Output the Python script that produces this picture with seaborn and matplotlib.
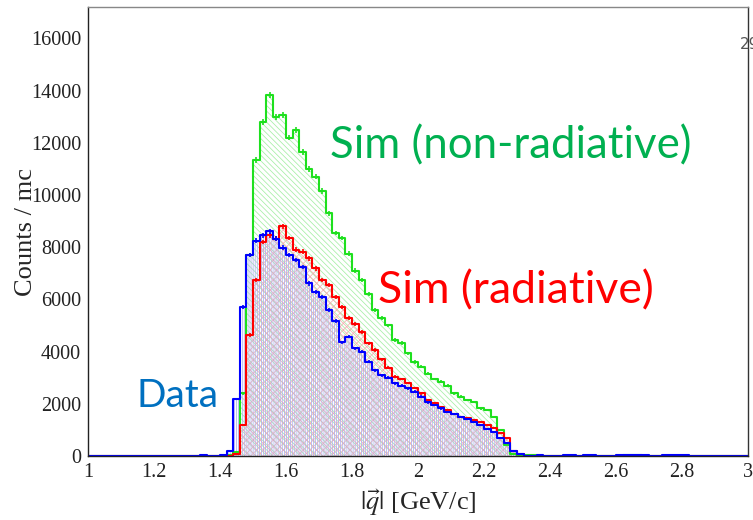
import numpy as np
import pandas as pd
import matplotlib
matplotlib.use('Agg')
import matplotlib.pyplot as plt
import seaborn as sns
from matplotlib.ticker import MultipleLocator, FormatStrFormatter

sns.set_style('white')
plt.rcParams['font.family'] = ['Liberation Serif', 'DejaVu Serif']
plt.rcParams['mathtext.fontset'] = 'stix'
plt.rcParams['hatch.linewidth'] = 0.55

# |q| histogram, 0.02 GeV/c bins from 1 to 3 (one row = 10 bins = 0.2 GeV/c)
q_min, q_max, n_bins = 1.0, 3.0, 100

data_counts = [
    0, 0, 0, 0, 0, 0, 0, 0, 0, 0,
    0, 0, 0, 0, 0, 0, 0, 50, 0, 0,
    40, 180, 2180, 5700, 7700, 8250, 8450, 8600, 8330, 7980,
    7700, 7500, 7250, 6610, 6290, 6100, 5590, 5180, 4350, 4570,
    4120, 3990, 3620, 3290, 3100, 3000, 2780, 2700, 2590, 2460,
    2270, 2050, 1950, 1820, 1700, 1600, 1480, 1400, 1300, 1180,
    1050, 920, 700, 480, 200, 80, 0, 0, 40, 0,
    0, 0, 40, 40, 0, 40, 40, 0, 0, 0,
    40, 40, 40, 40, 40, 0, 0, 40, 40, 40,
    40, 0, 0, 0, 0, 0, 0, 0, 0, 0,
]

sim_radiative = [
    0, 0, 0, 0, 0, 0, 0, 0, 0, 0,
    0, 0, 0, 0, 0, 0, 0, 0, 0, 0,
    0, 0, 80, 1200, 4630, 6740, 8200, 8450, 8330, 8800,
    8350, 7900, 7830, 7570, 7190, 6740, 6550, 6100, 5700, 5300,
    5050, 4760, 4320, 4060, 3700, 3380, 3040, 2950, 2800, 2600,
    2400, 2150, 2020, 1890, 1760, 1600, 1500, 1440, 1380, 1310,
    1190, 1060, 900, 700, 200, 60, 0, 0, 0, 0,
    0, 0, 0, 0, 0, 0, 0, 0, 0, 0,
    0, 0, 0, 0, 0, 0, 0, 0, 0, 0,
    0, 0, 0, 0, 0, 0, 0, 0, 0, 0,
]

sim_nonradiative = [
    0, 0, 0, 0, 0, 0, 0, 0, 0, 0,
    0, 0, 0, 0, 0, 0, 0, 0, 0, 0,
    0, 50, 150, 2400, 7700, 11340, 12800, 13830, 13000, 13060,
    12200, 12490, 11650, 11000, 10700, 10150, 9300, 8540, 8350, 7750,
    7100, 6750, 6200, 5600, 5300, 5000, 4450, 4330, 3930, 3600,
    3420, 3150, 2950, 2850, 2700, 2400, 2270, 2140, 2080, 1820,
    1750, 1500, 1000, 420, 80, 0, 40, 40, 0, 0,
    0, 0, 0, 0, 0, 0, 0, 0, 0, 0,
    0, 40, 40, 40, 0, 0, 0, 0, 0, 0,
    0, 0, 0, 0, 0, 0, 0, 0, 0, 0,
]

edges = np.linspace(q_min, q_max, n_bins + 1)
centers = 0.5 * (edges[:-1] + edges[1:])
bin_list = list(edges)

df = pd.concat([
    pd.DataFrame({'q': centers, 'counts': sim_nonradiative, 'sample': 'nonrad'}),
    pd.DataFrame({'q': centers, 'counts': sim_radiative, 'sample': 'rad'}),
    pd.DataFrame({'q': centers, 'counts': data_counts, 'sample': 'data'}),
], ignore_index=True)

# line colour, hatch colour, hatch pattern
styles = {
    'nonrad': ('#1ee01e', '#a6eea6', '\\' * 6),
    'rad':    ('#ff0000', '#f4b0b0', 'x' * 5),
    'data':   ('#0000ff', '#aeaeee', '|' * 8),
}

fig, ax = plt.subplots(figsize=(7.53, 5.20), dpi=100)
fig.subplots_adjust(left=88/753, right=748/753, bottom=64/520, top=513/520)

for name in ['nonrad', 'rad', 'data']:
    sub = df[df['sample'] == name]
    lc, hc, hatch = styles[name]
    sns.histplot(sub, x='q', weights='counts', bins=bin_list, element='step', fill=True,
                 color=hc, facecolor='none', edgecolor=hc, hatch=hatch, linewidth=0, ax=ax)

for name in ['nonrad', 'rad', 'data']:
    sub = df[df['sample'] == name]
    lc, hc, hatch = styles[name]
    sns.histplot(sub, x='q', weights='counts', bins=bin_list, element='step', fill=False,
                 color=lc, linewidth=1.5, ax=ax)
    nz = sub[sub['counts'] > 0]
    ax.errorbar(nz['q'], nz['counts'], yerr=np.sqrt(nz['counts']), fmt='none',
                ecolor=lc, elinewidth=1.2)

ax.set_xlim(1, 3)
ax.set_ylim(0, 17200)
ax.xaxis.set_major_locator(MultipleLocator(0.2))
ax.xaxis.set_minor_locator(MultipleLocator(0.05))
ax.xaxis.set_major_formatter(FormatStrFormatter('%g'))
ax.yaxis.set_major_locator(MultipleLocator(2000))
ax.yaxis.set_minor_locator(MultipleLocator(500))
ax.tick_params(axis='both', which='both', direction='in', labelsize=14.5, colors='#222222')
ax.tick_params(axis='x', which='major', length=11.5, width=0.8, pad=5)
ax.tick_params(axis='x', which='minor', length=5.5, width=0.8)
ax.tick_params(axis='y', which='major', length=13.5, width=0.8, pad=5)
ax.tick_params(axis='y', which='minor', length=6.5, width=0.8)

for side, col in [('left', '#222222'), ('bottom', '#222222'), ('top', '#888888'), ('right', '#333333')]:
    ax.spines[side].set_visible(True)
    ax.spines[side].set_color(col)
    ax.spines[side].set_linewidth(1.0)

ax.set_xlabel(r'$|\vec{q}|$ [GeV/c]', fontsize=19, labelpad=4)
ax.set_ylabel('Counts / mc', fontsize=19, va='center')
ax.yaxis.set_label_coords(-0.094, 0.5)

ann = dict(family=['Lato', 'DejaVu Sans'], va='baseline', ha='left')
fig.text(330/753, 1 - 158/520, 'Sim (non-radiative)', color='#00b050', fontsize=31.5, **ann)
fig.text(378/753, 1 - 303/520, 'Sim (radiative)', color='#ff0000', fontsize=32, **ann)
fig.text(136/753, 1 - 407/520, 'Data', color='#0070c0', fontsize=28, **ann)
# remnant of a stats box label at the right edge
fig.text(740/753, 1 - 49/520, '29', color='#555555', fontsize=11,
         family=['DejaVu Sans'])

fig.savefig('out.png', dpi=100)
